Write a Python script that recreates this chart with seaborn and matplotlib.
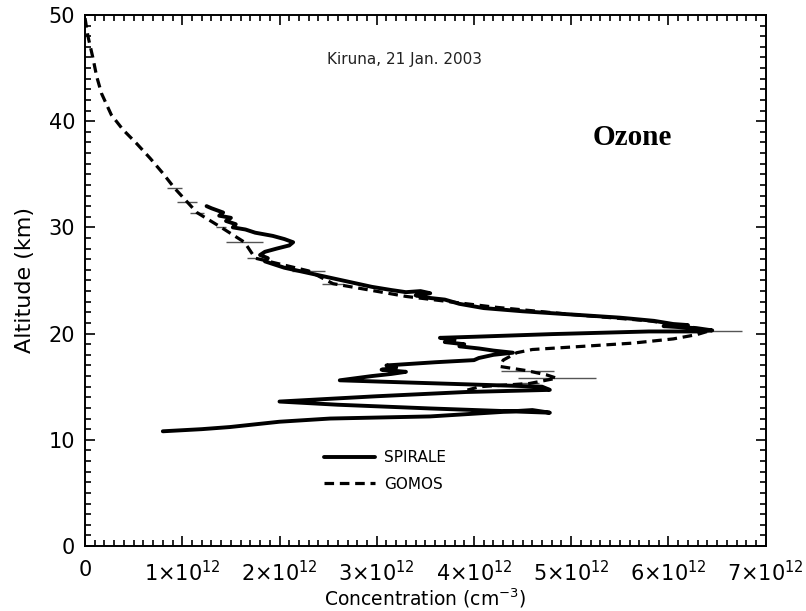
import numpy as np
import pandas as pd
import matplotlib
matplotlib.use("Agg")
import matplotlib.pyplot as plt
import seaborn as sns
from matplotlib.ticker import MultipleLocator, FuncFormatter

# SPIRALE balloon profile (concentration in 1e12 cm-3, altitude km)
spirale_x = [1.25, 1.30, 1.42, 1.38, 1.50, 1.45, 1.55, 1.52, 1.65, 1.75, 1.93, 2.05,
             2.14, 2.10, 1.97, 1.85, 1.80, 1.88, 1.85, 1.95, 2.05, 2.20, 2.35, 2.55,
             2.75, 2.95, 3.15, 3.30, 3.45, 3.55, 3.40, 3.50, 3.70, 3.85, 4.10, 4.50,
             5.00, 5.50, 5.85, 6.05, 6.20, 5.95, 6.30, 6.45, 6.30, 5.80, 4.80, 4.00,
             3.65, 3.80, 3.70, 3.90, 3.85, 4.05, 4.20, 4.40, 4.20, 4.05, 4.00, 3.60,
             3.10, 3.20, 3.05, 3.30, 3.15, 2.95, 2.62, 3.30, 4.00, 4.70, 4.78, 3.92,
             3.00, 2.00, 2.60, 3.55, 4.78, 4.60, 3.55, 2.52, 2.00, 1.49, 1.20, 0.80]
spirale_y = [32.0, 31.8, 31.4, 31.1, 30.9, 30.6, 30.3, 30.0, 29.8, 29.5, 29.2, 28.9,
             28.6, 28.3, 28.0, 27.7, 27.4, 27.1, 26.8, 26.5, 26.2, 25.9, 25.6, 25.2,
             24.8, 24.4, 24.1, 23.9, 24.0, 23.8, 23.6, 23.4, 23.2, 22.8, 22.4, 22.1,
             21.8, 21.5, 21.2, 20.9, 20.8, 20.7, 20.5, 20.3, 20.2, 20.2, 19.95, 19.7,
             19.6, 19.4, 19.2, 19.0, 18.8, 18.6, 18.4, 18.2, 18.0, 17.7, 17.5, 17.3,
             17.0, 16.8, 16.6, 16.4, 16.2, 16.0, 15.6, 15.4, 15.2, 15.0, 14.7, 14.5,
             14.1, 13.6, 13.3, 12.95, 12.55, 12.8, 12.2, 12.0, 11.7, 11.2, 11.0, 10.8]

# GOMOS occultation profile
gomos_x = [0.0, 0.03, 0.08, 0.12, 0.17, 0.27, 0.39, 0.53, 0.67, 0.80, 0.92, 1.05,
           1.15, 1.40, 1.64, 1.75, 2.30, 2.55, 3.30, 4.20, 5.00, 5.80, 6.25, 6.40,
           6.29, 6.05, 5.63, 5.12, 4.60, 4.44, 4.30, 4.27, 4.55, 4.75, 4.85, 4.57,
           4.06, 3.90]
gomos_y = [49.7, 48.0, 46.0, 44.2, 42.6, 40.6, 39.2, 37.9, 36.5, 35.1, 33.7, 32.4,
           31.4, 30.0, 28.6, 27.1, 25.9, 24.7, 23.5, 22.5, 21.8, 21.2, 20.6, 20.2,
           19.9, 19.5, 19.1, 18.8, 18.5, 18.2, 17.5, 16.9, 16.5, 16.1, 15.8, 15.3,
           15.0, 14.6]
# horizontal error bars on some GOMOS points
gomos_err_y = [33.7, 32.4, 31.4, 30.0, 28.6, 27.1, 25.9, 24.7, 20.2, 16.5, 15.8, 15.3]
gomos_err_x = [0.92, 1.05, 1.15, 1.40, 1.64, 1.75, 2.30, 2.55, 6.40, 4.55, 4.85, 4.57]
gomos_err = [0.08, 0.10, 0.07, 0.05, 0.19, 0.08, 0.17, 0.11, 0.36, 0.27, 0.40, 0.10]

sns.set_style("ticks")
plt.rcParams["font.family"] = ["DejaVu Sans"]
plt.rcParams["mathtext.fontset"] = "dejavusans"
plt.rcParams["text.color"] = "black"
plt.rcParams["axes.labelcolor"] = "black"

spirale = pd.DataFrame({"conc": spirale_x, "alt": spirale_y})
gomos = pd.DataFrame({"conc": gomos_x, "alt": gomos_y})

fig = plt.figure(figsize=(8.06, 6.11), dpi=100)
ax = fig.add_axes([0.1055, 0.1064, 0.8445, 0.8691])

ax.errorbar(gomos_err_x, gomos_err_y, xerr=gomos_err, fmt="none",
            ecolor="#555555", elinewidth=1.0, capsize=0)
sns.lineplot(data=gomos, x="conc", y="alt", sort=False, estimator=None,
             color="black", lw=2.3, ax=ax, label="GOMOS")
ax.lines[-1].set_linestyle((0, (3, 1.8)))
sns.lineplot(data=spirale, x="conc", y="alt", sort=False, estimator=None,
             color="black", lw=2.8, ax=ax, label="SPIRALE")

ax.set_xlim(0, 7)
ax.set_ylim(0, 50)
ax.xaxis.set_major_locator(MultipleLocator(1))
ax.xaxis.set_minor_locator(MultipleLocator(0.1))
ax.yaxis.set_major_locator(MultipleLocator(10))
ax.yaxis.set_minor_locator(MultipleLocator(1))


def fmt_x(v, pos):
    n = int(round(v))
    if n == 0:
        return "0"
    return r"%d$\times$10$^{12}$" % n


ax.xaxis.set_major_formatter(FuncFormatter(fmt_x))
ax.tick_params(which="both", direction="in", top=True, right=True,
               color="black", width=1.2, labelsize=15, labelcolor="black")
ax.tick_params(which="major", length=7.5)
ax.tick_params(which="minor", length=4)
ax.tick_params(axis="x", which="major", pad=10)
ax.tick_params(axis="y", which="major", pad=7)
for s in ax.spines.values():
    s.set_color("black")
    s.set_linewidth(1.4)

ax.set_xlabel(r"Concentration (cm$^{-3}$)", fontsize=13.5, labelpad=1)
ax.set_ylabel("Altitude (km)", fontsize=16, labelpad=10)

ax.text(3.29, 45.8, "Kiruna, 21 Jan. 2003", fontsize=11, ha="center", va="center",
        color="#222222")
ax.text(5.63, 38.5, "Ozone", fontsize=21, fontweight="bold", ha="center", va="center",
        family=["Liberation Serif", "DejaVu Serif"])

handles, labels = ax.get_legend_handles_labels()
order = [labels.index("SPIRALE"), labels.index("GOMOS")]
ax.legend([handles[i] for i in order], [labels[i] for i in order],
          loc="upper left", bbox_to_anchor=(0.34, 0.195), frameon=False,
          fontsize=11, handlelength=3.3, handletextpad=0.6, labelspacing=0.75,
          borderpad=0)

fig.savefig("out.png", dpi=100, facecolor="white")
